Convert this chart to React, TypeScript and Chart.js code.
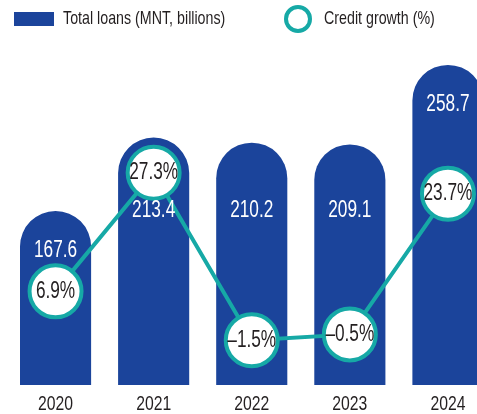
import React, { useEffect, useRef } from "react";
import { Chart, registerables } from "chart.js";

Chart.register(...registerables);

const years = ["2020", "2021", "2022", "2023", "2024"];
const totalLoans = [167.6, 213.4, 210.2, 209.1, 258.7];
const creditGrowth = [6.9, 27.3, -1.5, -0.5, 23.7];

const legendLoans = "Total loans (MNT, billions)";
const legendGrowth = "Credit growth (%)";

const BLUE = "#1b449b";
const TEAL = "#16a9a6";
const TEXT = "#231f20";
const FONT = "'Liberation Sans', Arial, sans-serif";
const NARROW = 0.75;

const fmtNum = (v: number) => v.toFixed(1);
const fmtPct = (v: number) => (v < 0 ? "\u2013" + Math.abs(v).toFixed(1) : v.toFixed(1)) + "%";

function narrowText(ctx: CanvasRenderingContext2D, text: string, x: number, y: number, size: number, color: string, align: CanvasTextAlign) {
  ctx.save();
  ctx.font = `${size}px ${FONT}`;
  ctx.fillStyle = color;
  ctx.textAlign = align;
  ctx.textBaseline = "middle";
  ctx.translate(x, y);
  ctx.scale(NARROW, 1);
  ctx.fillText(text, 0, 0);
  ctx.restore();
}

const labelsPlugin = {
  id: "valueLabels",
  afterDatasetsDraw(chart: any) {
    const ctx = chart.ctx;
    const area = chart.chartArea;
    const barMeta = chart.getDatasetMeta(0);
    const lineMeta = chart.getDatasetMeta(1);
    const row = area.top + area.height * 0.48;
    barMeta.data.forEach((bar: any, i: number) => {
      const top = bar.y;
      const p = lineMeta.data[i];
      let y = Math.max(top + 40, row);
      if (Math.abs(y - p.y) < 36) {
        const alt = top + 40;
        y = Math.abs(alt - p.y) < 36 ? p.y + 44 : alt;
      }
      narrowText(ctx, fmtNum(totalLoans[i]), bar.x, y, 23, "#ffffff", "center");
    });
    lineMeta.data.forEach((pt: any, i: number) => {
      narrowText(ctx, fmtPct(creditGrowth[i]), pt.x, pt.y, 23, TEXT, "center");
    });
    const xScale = chart.scales.x;
    chart.data.labels.forEach((lab: string, i: number) => {
      narrowText(ctx, lab, xScale.getPixelForValue(i), area.bottom + 19, 21, TEXT, "center");
    });
  },
  afterDraw(chart: any) {
    const ctx = chart.ctx;
    ctx.save();
    ctx.fillStyle = BLUE;
    ctx.fillRect(14, 12, 40, 14);
    ctx.beginPath();
    ctx.arc(298, 19, 12, 0, Math.PI * 2);
    ctx.fillStyle = "#ffffff";
    ctx.fill();
    ctx.lineWidth = 4;
    ctx.strokeStyle = TEAL;
    ctx.stroke();
    ctx.restore();
    narrowText(ctx, legendLoans, 63, 19, 19, TEXT, "left");
    narrowText(ctx, legendGrowth, 324, 19, 19, TEXT, "left");
  },
};

export default function App() {
  const ref = useRef<HTMLCanvasElement | null>(null);
  useEffect(() => {
    if (!ref.current) return;
    const chart = new Chart(ref.current, {
      type: "bar",
      data: {
        labels: years,
        datasets: [
          {
            type: "bar",
            label: legendLoans,
            data: totalLoans,
            backgroundColor: BLUE,
            borderWidth: 0,
            borderSkipped: "bottom",
            borderRadius: { topLeft: 40, topRight: 40, bottomLeft: 0, bottomRight: 0 },
            categoryPercentage: 1,
            barPercentage: 0.725,
            yAxisID: "y",
            order: 2,
          } as any,
          {
            type: "line",
            label: legendGrowth,
            data: creditGrowth,
            borderColor: TEAL,
            borderWidth: 4,
            pointRadius: 26,
            pointBorderWidth: 4,
            pointBackgroundColor: "#ffffff",
            pointBorderColor: TEAL,
            tension: 0,
            yAxisID: "y1",
            order: 1,
            clip: false,
          } as any,
        ],
      },
      options: {
        animation: false,
        responsive: false,
        events: [],
        layout: { autoPadding: false, padding: { top: 50, left: 6.5, right: 0, bottom: 29 } },
        plugins: { legend: { display: false }, tooltip: { enabled: false } },
        scales: {
          x: { display: false, offset: true },
          y: { display: false, min: 59, max: 268 },
          y1: { display: false, min: -9.2, max: 48.4 },
        },
      } as any,
      plugins: [labelsPlugin],
    });
    return () => chart.destroy();
  }, []);
  return (
    <div style={{ position: "absolute", left: 0, top: 0, width: 477, height: 414, overflow: "hidden", background: "#fff" }}>
      <canvas ref={ref} width={497} height={414} style={{ display: "block" }} />
    </div>
  );
}
